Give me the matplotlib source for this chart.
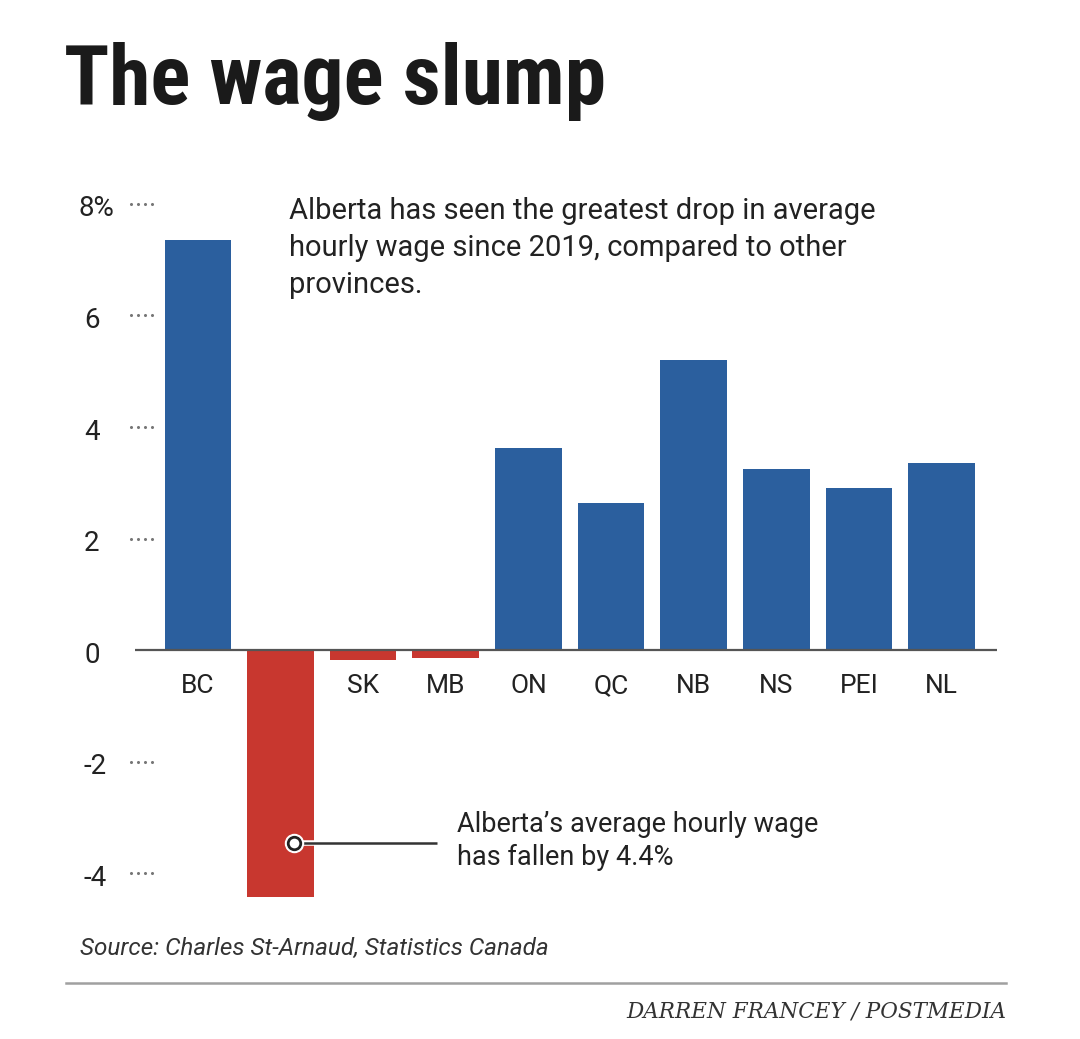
import matplotlib
matplotlib.use("Agg")
import matplotlib.pyplot as plt
import matplotlib.transforms as mtransforms
import matplotlib.patheffects as pe
from matplotlib import font_manager as fm

# data (% change in average hourly wage since 2019)
provinces = ["BC", "AB", "SK", "MB", "ON", "QC", "NB", "NS", "PEI", "NL"]
wage_change = [7.35, -4.43, -0.18, -0.14, 3.63, 2.64, 5.21, 3.24, 2.90, 3.35]
tick_values = [8, 6, 4, 2, 0, -2, -4]
tick_labels = ["8%", "6", "4", "2", "0", "-2", "-4"]

blue = "#2b5f9e"
red = "#c8372f"
ink = "#222222"


def has_font(name):
    try:
        fm.findfont(fm.FontProperties(family=name), fallback_to_default=False)
        return True
    except ValueError:
        return False


if has_font("Roboto Condensed"):
    title_font, title_size = "Roboto Condensed", 60
elif has_font("Liberation Sans Narrow"):
    title_font, title_size = "Liberation Sans Narrow", 60
else:
    title_font, title_size = "Roboto", 50

body = "Roboto"

W, H = 1080, 1039
fig = plt.figure(figsize=(W / 100, H / 100), dpi=100)
fig.patch.set_facecolor("white")

# axes placed so that 0 sits at y=650px and one unit = 55.8px
ax = fig.add_axes([135 / W, 1 - 929 / H, 862 / W, 753 / H])
ax.set_xlim(-0.76, 9.67)
ax.set_ylim(-5, 8.5)
ax.axis("off")

colors = [blue if v >= 0 else red for v in wage_change]
ax.bar(range(len(provinces)), wage_change, width=0.805, color=colors, zorder=2)
ax.axhline(0, color="#555555", lw=1.6, zorder=3)

# category labels under the zero line (AB is hidden behind its bar)
for i, name in enumerate(provinces):
    if wage_change[i] < -1:
        continue
    ax.text(i, -0.65, name, ha="center", va="center", fontsize=19,
            family=body, color=ink)

# y tick labels with little dotted leaders
blend = mtransforms.blended_transform_factory(fig.transFigure, ax.transData)
lab_off = mtransforms.ScaledTranslation(0, -5 / 100, fig.dpi_scale_trans)
for v, lab in zip(tick_values, tick_labels):
    x0 = 79 if lab.endswith("%") else 84
    ax.text(x0 / W, v, lab, ha="left", va="center", fontsize=20, family=body,
            color=ink, transform=blend + lab_off)
    if v != 0:
        ax.plot([x / W for x in (131, 138, 145, 152)], [v] * 4, "o", ms=1.2,
                color="#777777", transform=blend, clip_on=False)

# top note
ax.text(1.10, 8.12, "Alberta has seen the greatest drop in average\n"
        "hourly wage since 2019, compared to other\nprovinces.",
        ha="left", va="top", fontsize=21, family=body, color=ink,
        linespacing=1.4)

# Alberta callout
halo = [pe.Stroke(linewidth=4, foreground="white"), pe.Normal()]
ax.plot([1.16, 2.9], [-3.46, -3.46], color="#333333", lw=1.8, zorder=4,
        path_effects=halo, solid_capstyle="butt")
ax.plot(1.16, -3.46, "o", ms=13, mfc="white", mec="white", zorder=5)
ax.plot(1.16, -3.46, "o", ms=9, mfc="white", mec="#222222", mew=2, zorder=6)
ax.text(3.14, -3.42, "Alberta’s average hourly wage\nhas fallen by 4.4%",
        ha="left", va="center", fontsize=19.5, family=body, color=ink,
        linespacing=1.28)

# title, source, credit
fig.text(64 / W, 1 - 104 / H, "The wage slump", ha="left", va="baseline",
         fontsize=title_size, fontweight="bold", family=title_font,
         color="#1a1a1a")
fig.text(80 / W, 1 - 948 / H, "Source: Charles St-Arnaud, Statistics Canada",
         ha="left", va="center", fontsize=17.5, style="italic", family=body,
         color="#333333")
fig.add_artist(plt.Line2D([66 / W, 1006 / W], [1 - 983 / H] * 2,
                          color="#a0a0a0", lw=1.8))
fig.text(1006 / W, 1 - 1012 / H, "DARREN FRANCEY / POSTMEDIA", ha="right",
         va="center", fontsize=15.5, style="italic", family="DejaVu Serif",
         color="#333333")

fig.savefig("out.png", dpi=100, facecolor="white")
